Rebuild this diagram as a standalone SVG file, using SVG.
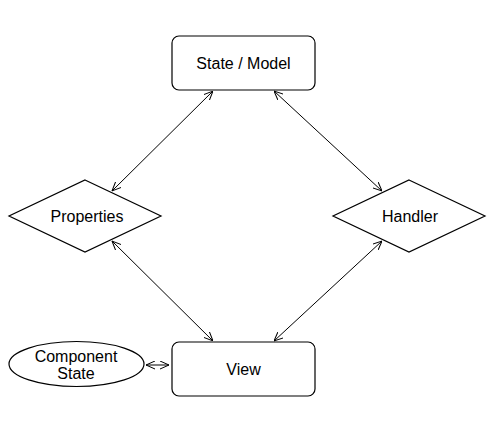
<svg xmlns="http://www.w3.org/2000/svg" width="504" height="432" viewBox="0 0 504 432">
<style>
.shape{fill:#fff;stroke:#000;stroke-width:1.2}
.lbl{font-family:"Liberation Sans",Arial,sans-serif;font-size:16px;fill:#000;text-anchor:middle}
.conn{fill:none;stroke:#000;stroke-width:1;marker-start:url(#ah);marker-end:url(#ah)}
</style>
<defs>
<marker id="ah" viewBox="0 0 9 9" refX="9" refY="4.5" markerWidth="9" markerHeight="9" markerUnits="userSpaceOnUse" orient="auto-start-reverse">
<path d="M0,0.5 L9,4.5 L0,8.5" fill="none" stroke="#000" stroke-width="1"/>
</marker>
</defs>
<rect width="504" height="432" fill="#fff"/>
<g id="connectors">
<path class="conn" d="M213,91 L112,191"/>
<path class="conn" d="M274,91 L382,191"/>
<path class="conn" d="M112,241 L213,341"/>
<path class="conn" d="M382,241 L274,341"/>
<path class="conn" d="M146,365 L169,365"/>
</g>
<g id="state-model">
<rect class="shape" x="172" y="36" width="143" height="54" rx="7"/>
<text class="lbl" x="243.5" y="69">State / Model</text>
</g>
<g id="properties">
<polygon class="shape" points="85,180 161,216 85,252 9,216"/>
<text class="lbl" x="87" y="221.5">Properties</text>
</g>
<g id="handler">
<polygon class="shape" points="409,180 485,216 409,252 333,216"/>
<text class="lbl" x="410" y="221.5">Handler</text>
</g>
<g id="view">
<rect class="shape" x="172" y="342" width="143" height="54" rx="7"/>
<text class="lbl" x="243.5" y="375">View</text>
</g>
<g id="component-state">
<ellipse class="shape" cx="76.5" cy="364" rx="67.5" ry="22.5"/>
<text class="lbl" x="76" y="362">Component</text>
<text class="lbl" x="76" y="379">State</text>
</g>
</svg>
